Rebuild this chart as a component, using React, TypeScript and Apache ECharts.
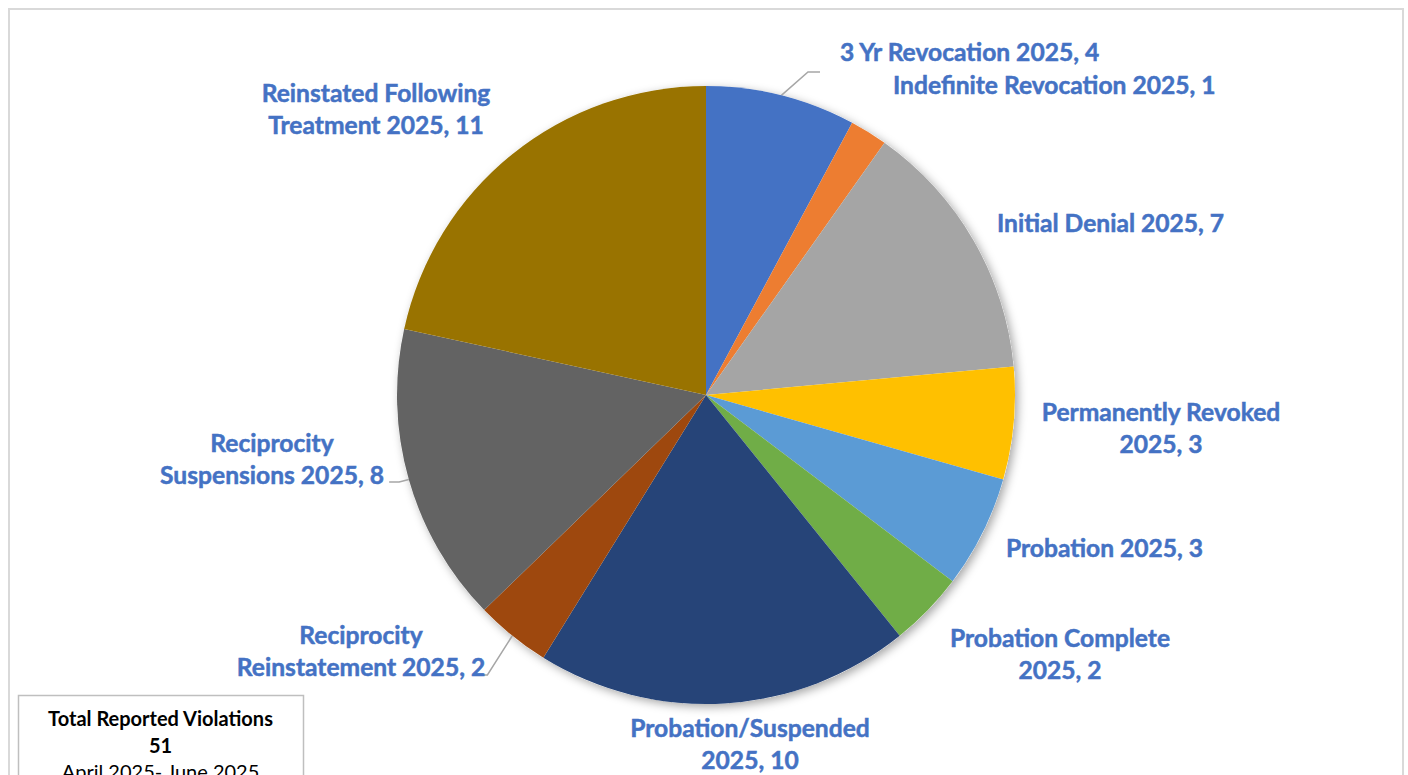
import React, { useEffect, useRef } from "react";
import * as echarts from "echarts";

const categories = [
  "3 Yr Revocation 2025",
  "Indefinite Revocation 2025",
  "Initial Denial 2025",
  "Permanently Revoked 2025",
  "Probation 2025",
  "Probation Complete 2025",
  "Probation/Suspended 2025",
  "Reciprocity Reinstatement 2025",
  "Reciprocity Suspensions 2025",
  "Reinstated Following Treatment 2025",
];
const values = [4, 1, 7, 3, 3, 2, 10, 2, 8, 11];
const colors = [
  "#4472C4",
  "#ED7D31",
  "#A5A5A5",
  "#FFC000",
  "#5B9BD5",
  "#70AD47",
  "#264478",
  "#9E480E",
  "#636363",
  "#997300",
];
// label text as displayed (with line breaks)
const labelTexts = [
  "3 Yr Revocation 2025",
  "Indefinite Revocation 2025",
  "Initial Denial 2025",
  "Permanently Revoked\n2025",
  "Probation 2025",
  "Probation Complete\n2025",
  "Probation/Suspended\n2025",
  "Reciprocity\nReinstatement 2025",
  "Reciprocity\nSuspensions 2025",
  "Reinstated Following\nTreatment 2025",
];
const showLeader = [true, false, false, false, false, false, false, true, true, false];

const boxTitle = "Total Reported Violations";
const boxPeriod = "April 2025- June 2025";

// label layout (x, y, align)
const labelLayoutPos: [number, number, string][] = [
  [840, 51, "left"],
  [893, 84, "left"],
  [997, 222, "left"],
  [1161, 427, "center"],
  [1006, 547, "center" === "x" ? "center" : "left"],
  [1060, 653, "center"],
  [750, 743, "center"],
  [361, 650, "center"],
  [272, 458, "center"],
  [376, 108, "center"],
];

// leader line attachment: [edge, dx, dy from bottom, arm length (toward pie)]
const leaderStyle: Record<number, [string, number, number, number]> = {
  0: ["left", -20, 5, -12],
  7: ["right", -12, -7, 14],
  8: ["right", 5, -8, 10],
};

export default function App() {
  const ref = useRef<HTMLDivElement>(null);
  useEffect(() => {
    if (!ref.current) return;
    const chart = echarts.init(ref.current, null, { renderer: "svg" });
    const total = values.reduce((a, b) => a + b, 0);
    const data = categories.map((name, i) => ({
      name,
      value: values[i],
      itemStyle: { color: colors[i] },
      labelLine: { show: showLeader[i] },
    }));
    chart.setOption({
      animation: false,
      backgroundColor: "#ffffff",
      graphic: [
        {
          type: "rect",
          z: -10,
          shape: { x: 9, y: 9, width: 1394, height: 820 },
          style: { fill: "none", stroke: "#d9d9d9", lineWidth: 2 },
        },
        {
          type: "rect",
          z: 10,
          shape: { x: 18.5, y: 695.5, width: 285, height: 120 },
          style: { fill: "#ffffff", stroke: "#bfbfbf", lineWidth: 1.5 },
        },
        {
          type: "text",
          z: 11,
          x: 160.5,
          y: 718,
          style: {
            text: boxTitle,
            fill: "#000000",
            font: "bold 20px Lato",
            textAlign: "center",
            textVerticalAlign: "middle",
          },
        },
        {
          type: "text",
          z: 11,
          x: 160.5,
          y: 745,
          style: {
            text: String(total),
            fill: "#000000",
            font: "bold 20px Lato",
            textAlign: "center",
            textVerticalAlign: "middle",
          },
        },
        {
          type: "text",
          z: 11,
          x: 160.5,
          y: 771,
          style: {
            text: boxPeriod,
            fill: "#000000",
            font: "20px Lato",
            textAlign: "center",
            textVerticalAlign: "middle",
          },
        },
      ],
      series: [
        {
          type: "pie",
          silent: true,
          z: 1,
          center: [706, 395],
          radius: 309,
          data: [{ value: total, name: "total" }],
          label: { show: false },
          labelLine: { show: false },
          itemStyle: {
            color: "#ffffff",
            shadowBlur: 10,
            shadowColor: "rgba(0,0,0,0.35)",
            shadowOffsetX: 3,
            shadowOffsetY: 3,
          },
        },
        {
          type: "pie",
          z: 2,
          center: [706, 395],
          radius: 309,
          startAngle: 90,
          clockwise: true,
          data,
          label: {
            show: true,
            position: "outside",
            formatter: (p: any) => `${labelTexts[p.dataIndex]}, ${p.value}`,
            color: "#4472C4",
            fontFamily: "Lato",
            fontWeight: "bold",
            fontSize: 24.6,
            lineHeight: 32,
            textBorderColor: "#4472C4",
            textBorderWidth: 0.5,
          },
          labelLine: {
            length: 15,
            length2: 12,
            lineStyle: { color: "#a6a6a6", width: 1.5 },
          },
          labelLayout: (params: any) => {
            const i = params.dataIndex;
            const pos = labelLayoutPos[i];
            const w = params.labelRect.width;
            const h = params.labelRect.height;
            const left = pos[2] === "center" ? pos[0] - w / 2 : pos[0];
            const right = left + w;
            const bottom = pos[1] + h / 2;
            const out: any = {
              x: pos[0],
              y: pos[1],
              align: pos[2],
              verticalAlign: "middle",
            };
            const ls = leaderStyle[i];
            if (ls && params.labelLinePoints && params.labelLinePoints.length) {
              const start = params.labelLinePoints[0];
              const ex = (ls[0] === "left" ? left : right) + ls[1];
              const ey = bottom + ls[2];
              out.labelLinePoints = [
                [start[0], start[1]],
                [ex + ls[3], ey],
                [ex, ey],
              ];
            }
            return out;
          },
        },
      ],
    });
    return () => chart.dispose();
  }, []);
  return (
    <div
      ref={ref}
      style={{ position: "fixed", left: 0, top: 0, width: 1408, height: 775 }}
    />
  );
}
